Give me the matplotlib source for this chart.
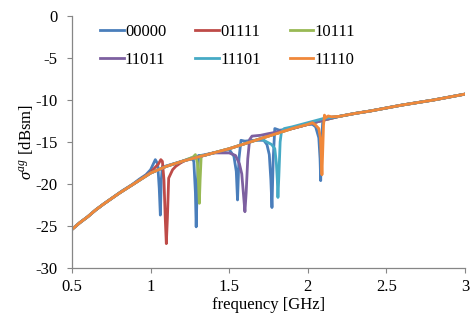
import numpy as np
import matplotlib
matplotlib.use("Agg")
import matplotlib.pyplot as plt

plt.rcParams['font.family'] = ['Liberation Serif', 'DejaVu Serif']
plt.rcParams['mathtext.fontset'] = 'custom'
plt.rcParams['mathtext.rm'] = 'Liberation Serif'
plt.rcParams['mathtext.it'] = 'Liberation Serif:italic'

# smooth trend shared by all states (GHz, dBsm)
base_f = [0.5, 0.55, 0.6, 0.65, 0.7, 0.8, 0.9, 1.0, 1.1, 1.2, 1.3, 1.4, 1.5,
          1.6, 1.7, 1.8, 1.9, 2.0, 2.1, 2.2, 2.3, 2.4, 2.5, 2.6, 2.7, 2.8, 2.9, 3.0]
base_db = [-25.4, -24.6, -23.9, -23.1, -22.4, -21.1, -19.9, -18.7, -17.9, -17.3,
           -16.8, -16.3, -15.8, -15.2, -14.6, -14.0, -13.4, -12.9, -12.4, -11.95,
           -11.6, -11.3, -10.95, -10.6, -10.3, -10.0, -9.65, -9.3]

labels = ['00000', '01111', '10111', '11011', '11101', '11110']
colors = ['#4A7EBB', '#BE4B48', '#98B954', '#7D60A0', '#46AAC5', '#F0883A']

# resonance features for each state
feat_f = {
    '00000': [0.82, 0.88, 0.93, 0.97, 1.0, 1.02, 1.03, 1.045, 1.055, 1.062, 1.068, 1.075, 1.09,
              1.26, 1.275, 1.285, 1.29, 1.297, 1.305, 1.32,
              1.5, 1.53, 1.545, 1.553, 1.562, 1.575, 1.6, 1.65,
              1.72, 1.74, 1.755, 1.765, 1.772, 1.78, 1.79, 1.82,
              2.03, 2.05, 2.07, 2.078, 2.082, 2.088, 2.095, 2.11],
    '01111': [1.0, 1.03, 1.05, 1.065, 1.075, 1.085, 1.093, 1.1, 1.107, 1.115, 1.125,
              1.14, 1.16, 1.19, 1.22],
    '10111': [1.27, 1.285, 1.298, 1.305, 1.31, 1.315, 1.322, 1.34],
    '11011': [1.4, 1.45, 1.5, 1.54, 1.565, 1.58, 1.592, 1.6, 1.608, 1.618, 1.63, 1.645,
              1.7, 1.75, 1.78],
    '11101': [1.74, 1.77, 1.79, 1.8, 1.806, 1.81, 1.816, 1.824, 1.832, 1.85, 1.9, 2.0, 2.1],
    '11110': [2.03, 2.05, 2.07, 2.08, 2.086, 2.09, 2.095, 2.1, 2.106, 2.115, 2.13, 2.15],
}
feat_db = {
    '00000': [-20.8, -20.1, -19.4, -18.9, -18.3, -17.5, -17.1, -17.6, -20.5, -23.7, -19.5, -17.9, -17.9,
              -16.9, -17.3, -21.0, -25.1, -20.0, -16.6, -16.6,
              -15.9, -16.7, -18.5, -21.9, -17.0, -14.8, -14.9, -14.8,
              -14.8, -15.3, -16.5, -19.5, -22.8, -17.0, -13.4, -13.6,
              -12.9, -13.2, -14.5, -17.0, -19.6, -15.0, -12.5, -12.1],
    '01111': [-18.6, -18.0, -17.6, -17.1, -17.3, -19.5, -24.0, -27.1, -24.0, -19.3, -18.9,
              -18.3, -17.9, -17.5, -17.2],
    '10111': [-16.8, -16.5, -17.5, -20.0, -22.3, -19.5, -16.6, -16.6],
    '11011': [-16.3, -16.3, -16.3, -16.6, -17.6, -18.8, -21.5, -23.3, -21.0, -17.0, -14.7, -14.3,
              -14.2, -14.0, -13.9],
    '11101': [-15.0, -15.3, -15.8, -17.5, -19.5, -21.6, -19.0, -15.0, -13.8, -13.4, -13.2, -12.7, -12.2],
    '11110': [-12.7, -13.0, -13.4, -14.5, -17.0, -18.9, -16.0, -13.0, -11.8, -12.1, -11.9, -12.0],
}


def build_series(name):
    ff = feat_f[name]
    fd = feat_db[name]
    pts = list(zip(ff, fd))
    for f, d in zip(base_f, base_db):
        if min(abs(f - x) for x in ff) > 0.025:
            pts.append((f, d))
    pts.sort()
    return [p[0] for p in pts], [p[1] for p in pts]


fig = plt.figure(figsize=(4.71, 3.2), dpi=100)
ax = fig.add_axes([72 / 471, 1 - 268 / 320, (465 - 72) / 471, (268 - 16) / 320])

lines = []
for name, c in zip(labels, colors):
    x, y = build_series(name)
    ln, = ax.plot(x, y, color=c, lw=2.0, label=name, solid_joinstyle='round')
    lines.append(ln)

ax.set_xlim(0.5, 3)
ax.set_ylim(-30, 0)
ax.set_xticks([0.5, 1, 1.5, 2, 2.5, 3])
ax.set_xticklabels(['0.5', '1', '1.5', '2', '2.5', '3'])
ax.set_yticks(range(-30, 1, 5))
ax.set_yticklabels([str(v) for v in range(-30, 1, 5)])

for s in ['top', 'right']:
    ax.spines[s].set_visible(False)
for s in ['left', 'bottom']:
    ax.spines[s].set_color('#868686')
    ax.spines[s].set_linewidth(0.9)
ax.tick_params(axis='both', direction='out', length=3.6, color='#868686', labelsize=12)
ax.tick_params(axis='x', pad=4)
ax.tick_params(axis='y', pad=7)

ax.set_xlabel('frequency [GHz]', fontsize=12, labelpad=2)
ax.set_ylabel(r'$\sigma^{ag}$ [dBsm]', fontsize=12, labelpad=0)

# legend filled row by row, like the original
order = [0, 3, 1, 4, 2, 5]
ax.legend([lines[i] for i in order], [labels[i] for i in order],
          loc='upper left', bbox_to_anchor=(0.055, 0.995), ncol=3, frameon=False,
          fontsize=12, handlelength=1.4, handletextpad=0.08, columnspacing=1.75,
          labelspacing=0.7, borderaxespad=0)

fig.savefig('out.png', dpi=100)
